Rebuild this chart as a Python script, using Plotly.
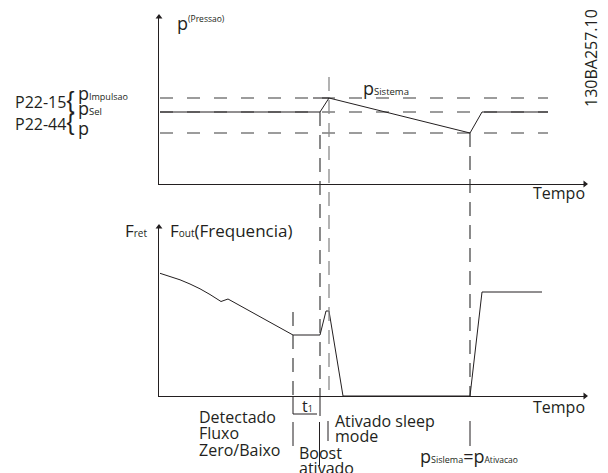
import plotly.graph_objects as go

W, H = 608, 473

# ---------------- data (schematic units, 1 unit = 10 px) ----------------
T_MAX = 42.8          # time axis length
P_MAX = 16.9          # pressure axis length
F_MAX = 17.1          # frequency axis length

# pressure levels
p_impulsao = 8.6
p_sel = 7.2
p_ativacao = 5.1
t_level_end = 38.9

# system pressure curve
t_press = [0.1, 16.1, 17.0, 31.1, 32.3, 38.9]
p_sistema = [7.2, 7.2, 8.6, 5.1, 7.2, 7.2]
t_stub = [15.4, 17.0]
p_stub = [8.6, 8.6]

# output frequency curve
t_freq = [0.1, 1.1, 2.1, 3.1, 4.1, 5.1, 6.2, 6.9, 13.4, 16.1, 16.7, 17.0, 18.4, 31.1, 32.3, 38.3]
f_out = [12.27, 11.97, 11.62, 11.2, 10.72, 10.15, 9.45, 9.7, 6.1, 6.1, 8.5, 8.5, 0.0, 0.0, 10.4, 10.4]

# events
t_detect = 13.4
t_boost = 16.1
t_sleep = 17.0
t_wake = 31.1
p_sleep_top = 10.7
f_detect_top = 8.4

# ---------------- layout helpers ----------------
X_DOM = [159 / W, 587 / W]
TOP_DOM = [1 - 184 / H, 1 - 15 / H]
BOT_DOM = [1 - 396 / H, 1 - 225 / H]


def top_y(p):
    return TOP_DOM[0] + p / P_MAX * (TOP_DOM[1] - TOP_DOM[0])


def bot_y(f):
    return BOT_DOM[0] + f / F_MAX * (BOT_DOM[1] - BOT_DOM[0])


def px(x):
    return x / W


def py(y):
    return 1 - y / H


def fy(ypix):
    """pixel row below bottom chart -> frequency-axis value"""
    return (396 - ypix) / 10.0


INK = "#231f20"
FONT = "Open Sans"

fig = go.Figure()

line_kw = dict(color=INK, width=1)
dash_kw = dict(color="#3a3a3a", width=1.1, dash="13px,14px")

# top chart: reference levels (dashed)
for lvl in [p_impulsao, p_sel, p_ativacao]:
    fig.add_trace(go.Scatter(x=[0.1, t_level_end], y=[lvl, lvl], mode="lines",
                             line=dash_kw, xaxis="x", yaxis="y", hoverinfo="skip"))
# system pressure
fig.add_trace(go.Scatter(x=t_press, y=p_sistema, mode="lines", line=line_kw,
                         xaxis="x", yaxis="y", hoverinfo="skip"))
fig.add_trace(go.Scatter(x=t_stub, y=p_stub, mode="lines", line=line_kw,
                         xaxis="x", yaxis="y", hoverinfo="skip"))
# bottom chart: frequency
fig.add_trace(go.Scatter(x=t_freq, y=f_out, mode="lines", line=line_kw,
                         xaxis="x2", yaxis="y2", hoverinfo="skip"))

# arrowheads (markers, not clipped)
AH = dict(color=INK, size=6, line=dict(width=0))
fig.add_trace(go.Scatter(x=[0.0], y=[P_MAX - 0.2], mode="markers", cliponaxis=False,
                         marker=dict(symbol="triangle-up", **AH), xaxis="x", yaxis="y",
                         hoverinfo="skip"))
fig.add_trace(go.Scatter(x=[T_MAX - 0.2], y=[0.0], mode="markers", cliponaxis=False,
                         marker=dict(symbol="triangle-right", **AH), xaxis="x", yaxis="y",
                         hoverinfo="skip"))
fig.add_trace(go.Scatter(x=[0.0], y=[F_MAX - 0.2], mode="markers", cliponaxis=False,
                         marker=dict(symbol="triangle-up", **AH), xaxis="x2", yaxis="y2",
                         hoverinfo="skip"))
fig.add_trace(go.Scatter(x=[T_MAX - 0.2, t_boost - 0.25], y=[0.0, fy(414)], mode="markers",
                         cliponaxis=False, marker=dict(symbol="triangle-right", **AH),
                         xaxis="x2", yaxis="y2", hoverinfo="skip"))
up_x = [t_detect, t_boost - 0.05, t_sleep - 0.1, t_wake]
up_y = [fy(422), fy(422), fy(421), fy(421)]
fig.add_trace(go.Scatter(x=up_x, y=up_y, mode="markers", cliponaxis=False,
                         marker=dict(symbol="triangle-up", **AH), xaxis="x2", yaxis="y2",
                         hoverinfo="skip"))

shapes = []
vdash = dict(color="#2a2a2a", width=1.1, dash="14px,9px")
shapes.append(dict(type="line", xref="x", yref="paper", x0=t_boost, x1=t_boost,
                   y0=top_y(p_sel), y1=bot_y(0), line=vdash))
shapes.append(dict(type="line", xref="x", yref="paper", x0=t_sleep, x1=t_sleep,
                   y0=top_y(p_sleep_top), y1=bot_y(0),
                   line=dict(color="#8a8a8a", width=1.3, dash="14px,9px")))
shapes.append(dict(type="line", xref="x", yref="paper", x0=t_wake, x1=t_wake,
                   y0=top_y(p_ativacao), y1=bot_y(0), line=vdash))
shapes.append(dict(type="line", xref="x2", yref="y2", x0=t_detect, x1=t_detect,
                   y0=f_detect_top, y1=0, line=vdash))


def seg(x0, y0pix, x1, y1pix):
    shapes.append(dict(type="line", xref="x2", yref="paper", x0=x0, x1=x1,
                       y0=py(y0pix), y1=py(y1pix), line=dict(color=INK, width=1)))


# marks below the time axis
seg(t_detect, 397, t_detect, 414)              # bracket
seg(t_detect, 414, t_boost - 0.3, 414)         # t1 arrow shaft
seg(t_boost, 397, t_boost, 416)                # boost tick
seg(t_detect, 422, t_detect, 446)              # detect arrow
seg(t_boost - 0.05, 422, t_boost - 0.05, 466)  # boost arrow
seg(t_sleep - 0.1, 421, t_sleep - 0.1, 441)    # sleep arrow
seg(t_wake, 421, t_wake, 446)                  # wake arrow

ann = []


def txt(x, y, text, size=16, xanchor="left", angle=0, family=FONT):
    ann.append(dict(xref="paper", yref="paper", x=px(x - 2), y=py(y), text=text,
                    showarrow=False, xanchor=xanchor, yanchor="middle",
                    textangle=angle, font=dict(family=family, size=size, color=INK)))


def small(s, size):
    return "<span style='font-size:%spx'>%s</span>" % (size, s)


BRACE = "<span style='font-family:Liberation Sans;font-size:24px'>{</span>"

# top chart labels
txt(177, 23, "p<sup>" + small("(Pressao)", 8.5) + "</sup>", 18)
txt(15, 99.7, "P22-15" + BRACE, 16)
txt(15, 121.7, "P22-44" + BRACE, 16)
txt(78, 93, "p" + small("Impulsao", 9), 18)
txt(78, 108, "p" + small("Sel", 9.5), 18)
txt(78, 128, "p", 18)
txt(363, 88, "p" + small("Sistema", 9.5), 18)
txt(533, 193, "Tempo", 16)
ann.append(dict(xref="paper", yref="paper", x=px(591), y=py(58), text="130BA257.10",
                showarrow=False, xanchor="center", yanchor="middle", textangle=-90,
                font=dict(family=FONT, size=16, color=INK)))

# bottom chart labels
txt(125, 230.4, "F" + small("ret", 10), 17)
txt(170, 230.4, "F" + small("out", 10) + "(Frequencia)", 17)
txt(533, 407, "Tempo", 16)
txt(199, 416.7, "Detectado", 16)
txt(199, 433, "Fluxo", 16)
txt(199, 450, "Zero/Baixo", 16)
txt(302, 405.8, "t" + small("1", 9), 16)
txt(335, 420.5, "Ativado sleep", 16)
txt(335, 436, "mode", 16)
txt(299, 453, "Boost", 16)
txt(299, 468, "ativado", 16)
txt(420, 456, "p" + small("Sislema", 9) + "=p" + small("Ativacao", 8.5), 18)

axis_x = dict(showgrid=False, zeroline=False, showticklabels=False, ticks="",
              showline=True, linecolor=INK, linewidth=1, fixedrange=True)
axis_y = dict(axis_x)

fig.update_layout(
    width=W, height=H,
    margin=dict(l=0, r=0, t=0, b=0),
    paper_bgcolor="white", plot_bgcolor="white",
    showlegend=False,
    xaxis=dict(domain=X_DOM, range=[0, T_MAX], anchor="y", **axis_x),
    yaxis=dict(domain=TOP_DOM, range=[0, P_MAX], anchor="x", **axis_y),
    xaxis2=dict(domain=X_DOM, range=[0, T_MAX], anchor="y2", **axis_x),
    yaxis2=dict(domain=BOT_DOM, range=[0, F_MAX], anchor="x2", **axis_y),
    shapes=shapes,
    annotations=ann,
)

fig.write_html("out.html", config={"displayModeBar": False},
               post_script="document.body.style.margin='0px';")
